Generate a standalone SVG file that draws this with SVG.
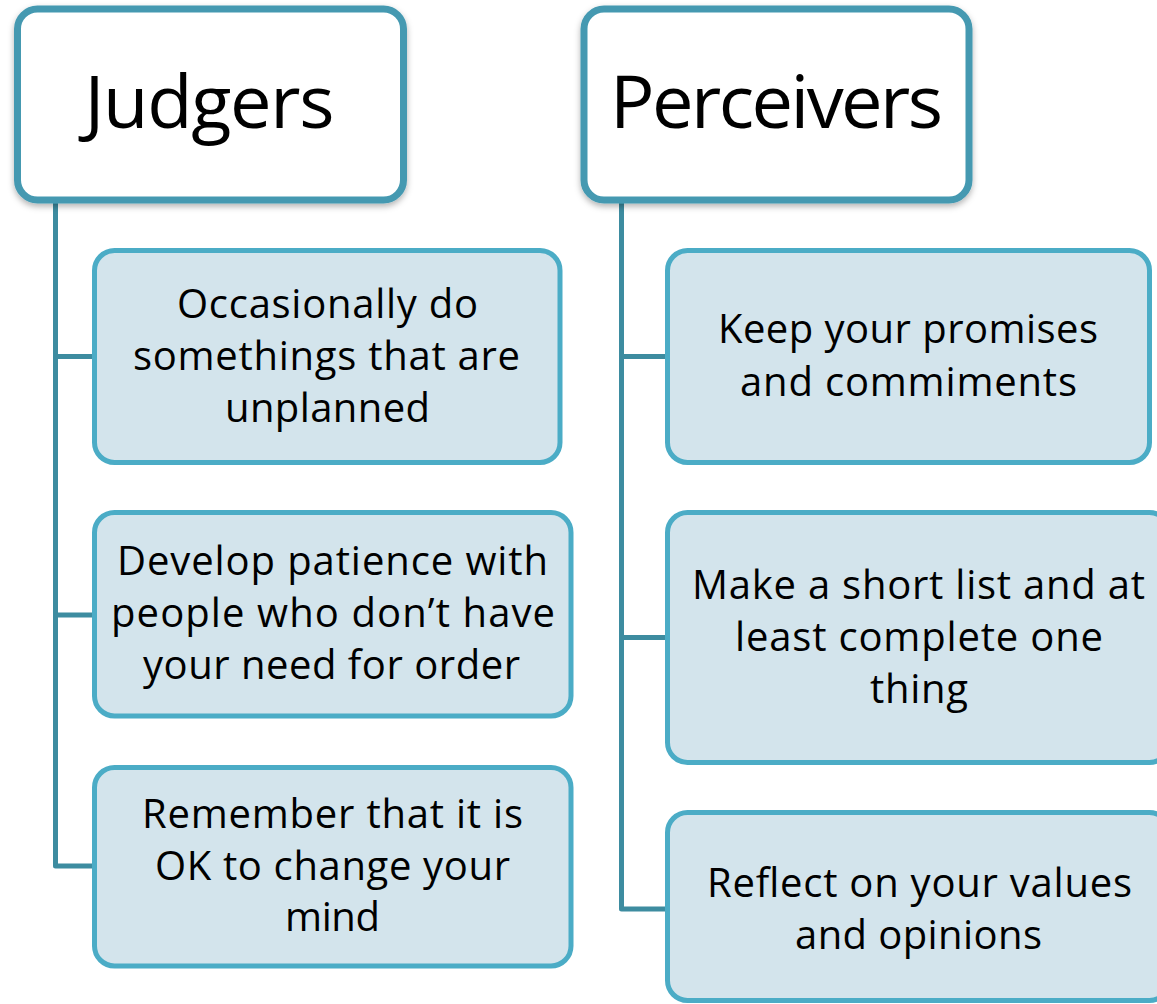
<svg xmlns="http://www.w3.org/2000/svg" width="1157" height="1004" viewBox="0 0 1157 1004">
  <defs>
    <filter id="headShadow" x="-10%" y="-10%" width="120%" height="125%">
      <feDropShadow dx="0" dy="3" stdDeviation="3" flood-color="#000" flood-opacity="0.3"/>
    </filter>
  </defs>
  <style>
    .head rect { fill: #ffffff; stroke: #4599b1; stroke-width: 7; }
    .item rect { fill: #d3e4ec; stroke: #4bacc6; stroke-width: 5; }
    .head text { font-family: "Open Sans", "Noto Sans", sans-serif; font-size: 74px; fill: #000; text-anchor: middle; }
    .item text { font-family: "Open Sans", "Noto Sans", sans-serif; font-size: 40px; fill: #000; text-anchor: middle; }
    .link { fill: none; stroke: #3d8ca0; stroke-width: 5; stroke-linejoin: round; }
  </style>

  <rect width="1157" height="1004" fill="#ffffff"/>

  <!-- tree connectors -->
  <g id="connectors">
    <path class="link" d="M55.5 200 V866 H94"/>
    <path class="link" d="M55.5 356.5 H94"/>
    <path class="link" d="M55.5 615 H94"/>
    <path class="link" d="M621.5 200 V909 H667"/>
    <path class="link" d="M621.5 356.5 H667"/>
    <path class="link" d="M621.5 637.5 H667"/>
  </g>

  <!-- column headers -->
  <g id="judgers" class="head">
    <rect x="17.5" y="9" width="386" height="191" rx="20" filter="url(#headShadow)"/>
    <text x="209.5" y="128" textLength="250">Judgers</text>
  </g>
  <g id="perceivers" class="head">
    <rect x="584" y="9" width="385" height="191" rx="20" filter="url(#headShadow)"/>
    <text x="776.5" y="128" textLength="333">Perceivers</text>
  </g>

  <!-- Judgers items -->
  <g id="j1" class="item">
    <rect x="94.5" y="250.5" width="465.5" height="212" rx="20"/>
    <text x="327.5" y="318" textLength="301">Occasionally do</text>
    <text x="326.5" y="370" textLength="387">somethings that are</text>
    <text x="327.5" y="422" textLength="205">unplanned</text>
  </g>
  <g id="j2" class="item">
    <rect x="94.5" y="512.5" width="476.5" height="203.5" rx="20"/>
    <text x="332.5" y="575" textLength="431">Develop patience with</text>
    <text x="333" y="627" textLength="444">people who don’t have</text>
    <text x="331.5" y="679" textLength="377">your need for order</text>
  </g>
  <g id="j3" class="item">
    <rect x="94.5" y="767.5" width="476.5" height="198.5" rx="20"/>
    <text x="332.5" y="828" textLength="381">Remember that it is</text>
    <text x="332.5" y="879.5" textLength="355">OK to change your</text>
    <text x="332.5" y="931" textLength="95">mind</text>
  </g>

  <!-- Perceivers items -->
  <g id="p1" class="item">
    <rect x="667.5" y="250.5" width="482" height="212" rx="20"/>
    <text x="908" y="343" textLength="380">Keep your promises</text>
    <text x="908.5" y="395.5" textLength="337">and commiments</text>
  </g>
  <g id="p2" class="item">
    <rect x="667.5" y="512.5" width="502" height="250" rx="20"/>
    <text x="918.5" y="599" textLength="453">Make a short list and at</text>
    <text x="919" y="651" textLength="368">least complete one</text>
    <text x="919" y="703" textLength="98">thing</text>
  </g>
  <g id="p3" class="item">
    <rect x="667.5" y="812.5" width="502" height="188" rx="20"/>
    <text x="919.5" y="896.5" textLength="425">Reflect on your values</text>
    <text x="918.5" y="948.5" textLength="247">and opinions</text>
  </g>
</svg>
